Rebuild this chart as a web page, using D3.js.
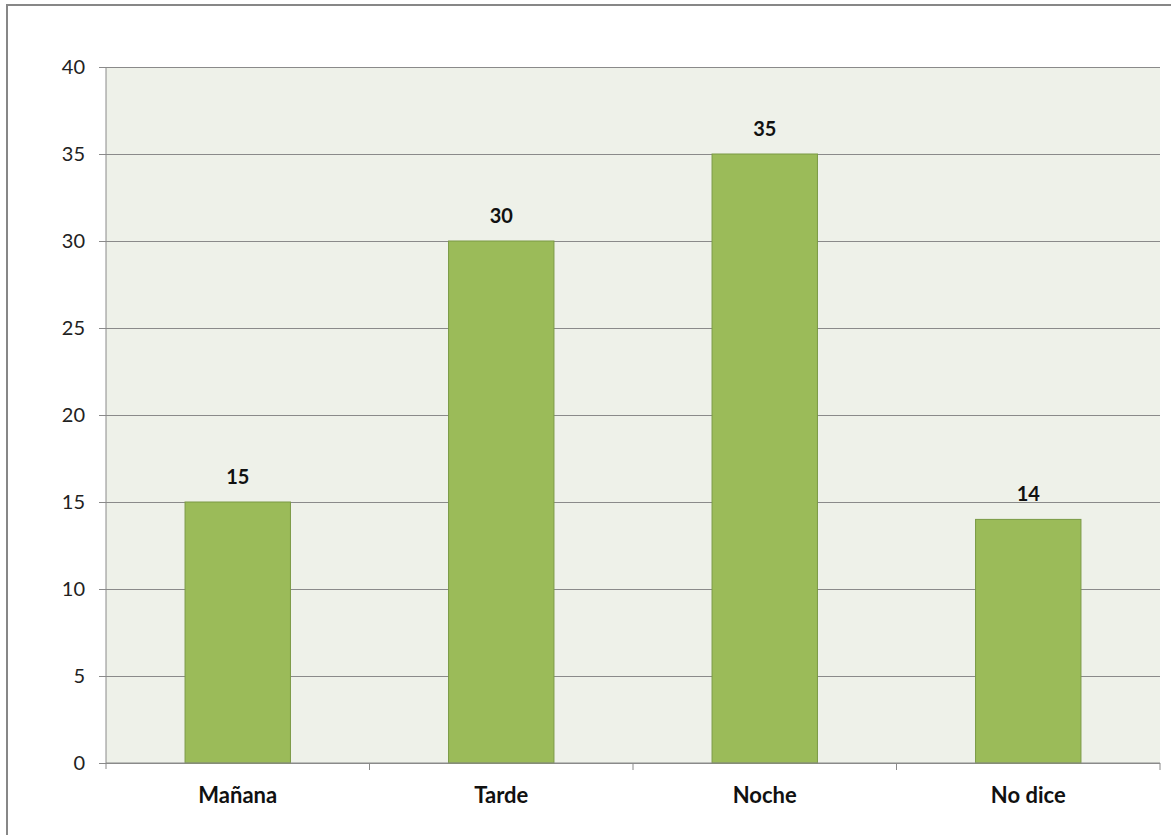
<!DOCTYPE html>
<html><head><meta charset="utf-8">
<script src="https://cdn.jsdelivr.net/npm/d3@7"></script>
<style>body{margin:0;background:#fff;}svg{display:block;}</style>
</head><body>
<svg id="c" width="1171" height="835"></svg>
<script>
const categories = ["Mañana", "Tarde", "Noche", "No dice"];
const values = [15, 30, 35, 14];
const yTicks = [0, 5, 10, 15, 20, 25, 30, 35, 40];

const svg = d3.select("#c");
const font = "Lato, 'Open Sans', sans-serif";
const m = {left: 106, right: 1160, top: 67, bottom: 763};

svg.append("rect").attr("x", 7).attr("y", 5).attr("width", 1180).attr("height", 850)
  .attr("fill", "#fff").attr("stroke", "#878787").attr("stroke-width", 2);

const x = d3.scaleBand().domain(categories).range([m.left, m.right]).paddingInner(0.6).paddingOuter(0.3);
const y = d3.scaleLinear().domain([0, 40]).range([m.bottom, m.top]);

svg.append("rect").attr("x", m.left).attr("y", m.top).attr("width", m.right - m.left)
  .attr("height", m.bottom - m.top).attr("fill", "#eef1e9");

// grid
const yAxis = d3.axisLeft(y).tickValues(yTicks).tickSize(-(m.right - m.left + 7)).tickPadding(14);
const gy = svg.append("g").attr("transform", `translate(${m.left - 7},0)`).call(yAxis);
gy.select(".domain").remove();
gy.selectAll(".tick line").attr("stroke", "#8a8a8a").attr("stroke-width", 1);
gy.selectAll(".tick text").attr("font-family", font).attr("font-size", 20).attr("fill", "#222");

svg.append("line").attr("x1", m.left).attr("x2", m.left).attr("y1", m.top).attr("y2", m.bottom + 6)
  .attr("stroke", "#8a8a8a");

svg.selectAll("rect.bar").data(values).join("rect").attr("class", "bar")
  .attr("x", (d, i) => x(categories[i])).attr("width", x.bandwidth())
  .attr("y", d => y(d)).attr("height", d => y(0) - y(d))
  .attr("fill", "#9bbb59").attr("stroke", "#7a9a45").attr("stroke-width", 1);

// x axis
svg.append("line").attr("x1", m.left).attr("x2", m.right).attr("y1", m.bottom).attr("y2", m.bottom)
  .attr("stroke", "#8a8a8a");
const step = x.step();
categories.forEach((c, i) => {
  const bx = m.left + step * (i + 1);
  svg.append("line").attr("x1", bx).attr("x2", bx).attr("y1", m.bottom).attr("y2", m.bottom + 7).attr("stroke", "#8a8a8a");
});
svg.selectAll("text.cat").data(categories).join("text").attr("class", "cat")
  .attr("x", d => x(d) + x.bandwidth() / 2).attr("y", 803)
  .attr("text-anchor", "middle").attr("font-family", font).attr("font-weight", "bold")
  .attr("font-size", 22).attr("fill", "#111").text(d => d);

svg.selectAll("text.val").data(values).join("text").attr("class", "val")
  .attr("x", (d, i) => x(categories[i]) + x.bandwidth() / 2).attr("y", d => y(d) - 18)
  .attr("text-anchor", "middle").attr("font-family", font).attr("font-weight", "bold")
  .attr("font-size", 20).attr("fill", "#111").text(d => d);
</script>
</body></html>
